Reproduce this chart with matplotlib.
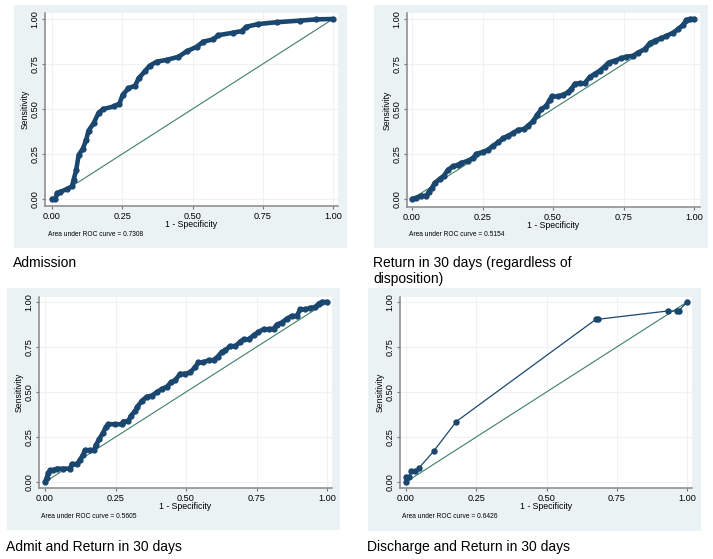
import matplotlib
matplotlib.use("Agg")
import matplotlib.pyplot as plt
from matplotlib.patches import Rectangle

plt.rcParams['font.family'] = ['Liberation Sans', 'DejaVu Sans']

W, H = 713, 559

# ROC points: (1 - specificity, sensitivity)
adm_x = [0, 0.012, 0.018, 0.03, 0.053, 0.071, 0.077, 0.086, 0.095, 0.11, 0.122, 0.13,
         0.148, 0.166, 0.183, 0.219, 0.24, 0.252, 0.272, 0.296, 0.308, 0.331, 0.347,
         0.373, 0.408, 0.45, 0.479, 0.515, 0.538, 0.574, 0.592, 0.645, 0.675, 0.692,
         0.734, 0.799, 0.882, 0.941, 1.0]
adm_y = [0, 0, 0.033, 0.04, 0.055, 0.07, 0.107, 0.16, 0.245, 0.28, 0.33, 0.38,
         0.42, 0.48, 0.50, 0.514, 0.53, 0.58, 0.615, 0.63, 0.67, 0.71, 0.74,
         0.763, 0.773, 0.79, 0.82, 0.846, 0.874, 0.887, 0.91, 0.924, 0.933, 0.957,
         0.972, 0.982, 0.991, 0.998, 1.0]

ret_x = [0, 0.015, 0.031, 0.051, 0.059, 0.071, 0.08, 0.098, 0.113, 0.128, 0.145, 0.163,
         0.175, 0.199, 0.216, 0.228, 0.252, 0.27, 0.287, 0.305, 0.323, 0.34, 0.358,
         0.376, 0.397, 0.411, 0.429, 0.444, 0.459, 0.476, 0.488, 0.496, 0.518, 0.535,
         0.553, 0.565, 0.577, 0.594, 0.612, 0.63, 0.648, 0.666, 0.683, 0.697, 0.719,
         0.742, 0.76, 0.784, 0.801, 0.825, 0.843, 0.861, 0.884, 0.902, 0.926, 0.943,
         0.961, 0.973, 0.985, 1.0]
ret_y = [0, 0.006, 0.018, 0.018, 0.037, 0.061, 0.089, 0.111, 0.129, 0.163, 0.181, 0.19,
         0.2, 0.213, 0.227, 0.25, 0.262, 0.274, 0.296, 0.314, 0.338, 0.351, 0.366,
         0.384, 0.388, 0.407, 0.431, 0.468, 0.499, 0.518, 0.551, 0.57, 0.57, 0.579,
         0.592, 0.61, 0.64, 0.643, 0.643, 0.677, 0.695, 0.713, 0.736, 0.758, 0.769,
         0.782, 0.791, 0.795, 0.813, 0.832, 0.865, 0.88, 0.893, 0.906, 0.924, 0.943,
         0.967, 0.994, 1.0, 1.0]

ar_x = [0, 0.006, 0.012, 0.018, 0.03, 0.041, 0.065, 0.089, 0.095, 0.115, 0.124, 0.134,
        0.142, 0.16, 0.174, 0.181, 0.193, 0.205, 0.217, 0.225, 0.249, 0.272, 0.278,
        0.296, 0.304, 0.32, 0.328, 0.343, 0.361, 0.379, 0.396, 0.414, 0.432, 0.446,
        0.462, 0.479, 0.497, 0.515, 0.533, 0.544, 0.562, 0.58, 0.598, 0.612, 0.627,
        0.639, 0.657, 0.675, 0.692, 0.704, 0.722, 0.74, 0.757, 0.775, 0.793, 0.811,
        0.822, 0.84, 0.858, 0.876, 0.893, 0.905, 0.923, 0.941, 0.959, 0.97, 0.982, 1.0]
ar_y = [0, 0.022, 0.05, 0.065, 0.065, 0.074, 0.074, 0.074, 0.1, 0.1, 0.124, 0.148,
        0.177, 0.177, 0.177, 0.207, 0.24, 0.271, 0.308, 0.321, 0.321, 0.321, 0.336,
        0.339, 0.367, 0.395, 0.419, 0.45, 0.474, 0.48, 0.498, 0.517, 0.529, 0.553,
        0.566, 0.601, 0.601, 0.609, 0.64, 0.664, 0.664, 0.677, 0.677, 0.696, 0.723,
        0.732, 0.755, 0.755, 0.779, 0.793, 0.793, 0.815, 0.834, 0.849, 0.849, 0.852,
        0.875, 0.886, 0.908, 0.923, 0.923, 0.959, 0.959, 0.967, 0.972, 0.991, 1.0, 1.0]

dis_x = [0, 0, 0.009, 0.019, 0.031, 0.045, 0.098, 0.179, 0.676, 0.683, 0.931, 0.964, 0.97, 1.0]
dis_y = [0, 0.028, 0.028, 0.059, 0.059, 0.076, 0.17, 0.336, 0.904, 0.904, 0.95, 0.95, 0.95, 1.0]

titles = ["Admission", "Return in 30 days (regardless of\ndisposition)",
          "Admit and Return in 30 days", "Discharge and Return in 30 days"]
aucs = ["0.7308", "0.5154", "0.5605", "0.6426"]
ticks = [0, 0.25, 0.5, 0.75, 1.0]
tick_labels = ["0.00", "0.25", "0.50", "0.75", "1.00"]

# pixel layout per panel: background box, white plot box, data 0/1 positions
panels = [
    dict(bg=(14, 5, 347, 248), box=(45, 13, 338, 206), x01=(52, 333), y01=(199, 19),
         title=(13, 263), auc=(48, 234)),
    dict(bg=(374, 5, 708, 248), box=(407, 13, 700, 207), x01=(412, 694), y01=(199, 19),
         title=(373, 271), auc=(409, 234)),
    dict(bg=(7, 288, 340, 530), box=(39, 297, 332, 488), x01=(45, 327), y01=(482, 302),
         title=(6, 547), auc=(41, 517)),
    dict(bg=(368, 288, 701, 531), box=(400, 297, 692, 488), x01=(406, 687), y01=(482, 302),
         title=(367, 547), auc=(402, 517)),
]
series = [(adm_x, adm_y), (ret_x, ret_y), (ar_x, ar_y), (dis_x, dis_y)]

navy = '#1a476f'
green = '#3d7f68'
bgcol = '#eaf2f3'

fig = plt.figure(figsize=(W / 100, H / 100), dpi=100)

for i, p in enumerate(panels):
    bx0, by0, bx1, by1 = p['bg']
    fig.patches.append(Rectangle((bx0 / W, 1 - by1 / H), (bx1 - bx0) / W, (by1 - by0) / H,
                                 transform=fig.transFigure, facecolor=bgcol,
                                 edgecolor='none', zorder=-5))
    x0, y0, x1, y1 = p['box']
    ax = fig.add_axes([x0 / W, 1 - y1 / H, (x1 - x0) / W, (y1 - y0) / H])
    ax.set_zorder(1)
    ax.set_facecolor('white')
    # data limits so that 0 and 1 land on the measured pixels
    px0, px1 = p['x01']
    sx = px1 - px0
    ax.set_xlim((x0 - px0) / sx, (x1 - px0) / sx)
    py0, py1 = p['y01']
    sy = py0 - py1
    ax.set_ylim((py0 - y1) / sy, (py0 - y0) / sy)

    ax.set_xticks(ticks)
    ax.set_xticklabels(tick_labels, fontsize=6.6)
    ax.set_yticks(ticks)
    ax.set_yticklabels(tick_labels, fontsize=6.6, rotation=90, va='center')
    ax.tick_params(length=2.5, width=0.8, color='#777777', pad=1.5)
    ax.grid(True, color='#eef2f2', linewidth=0.8)
    ax.set_axisbelow(True)
    for s in ['top', 'right']:
        ax.spines[s].set_visible(False)
    for s in ['left', 'bottom']:
        ax.spines[s].set_color('#888888')
        ax.spines[s].set_linewidth(1.1)
    ax.set_xlabel("1 - Specificity", fontsize=6.3, labelpad=-0.5)
    ax.set_ylabel("Sensitivity", fontsize=6.2, labelpad=0.5)

    ax.plot([0, 1], [0, 1], color=green, linewidth=0.8, zorder=2)
    xs, ys = series[i]
    if i < 3:
        ax.plot(xs, ys, color=navy, linewidth=3.3, solid_capstyle='round',
                solid_joinstyle='round', marker='o', markersize=3.5, zorder=3)
    else:
        ax.plot(xs, ys, color=navy, linewidth=0.9, marker='o', markersize=3.6, zorder=3)

    tx, ty = p['auc']
    fig.text(tx / W, 1 - ty / H, "Area under ROC curve = " + aucs[i],
             fontsize=4.8, va='center', ha='left')
    tx, ty = p['title']
    fig.text(tx / W, 1 - ty / H, titles[i], fontsize=10, va='center', ha='left',
             linespacing=1.25)

fig.savefig("out.png", dpi=100)
